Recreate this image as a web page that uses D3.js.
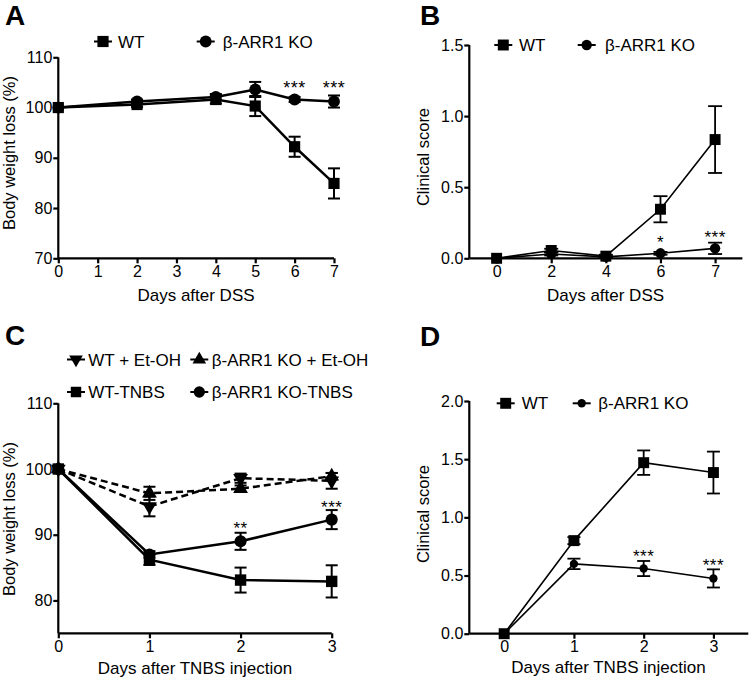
<!DOCTYPE html>
<html><head><meta charset="utf-8">
<script src="https://cdn.jsdelivr.net/npm/d3@7"></script>
<style>
body{margin:0;background:#fff;}
svg{display:block;font-family:"Liberation Sans",Arial,sans-serif;}
</style></head>
<body><svg id="c" width="750" height="683"></svg>
<script>
// ---------- Panel A data ----------
const daysA = [0, 2, 4, 5, 6, 7];
const wtA = [100, 100.6, 101.6, 100.3, 92.2, 84.9];
const wtAerr = [0, 0.5, 0.8, 2.0, 2.0, 3.0];
const koA = [100, 101.2, 102.1, 103.6, 101.6, 101.2];
const koAerr = [0, 0.4, 0.6, 1.5, 0.5, 1.2];
const sigA = [{d: 6, t: "***", at: 104.85}, {d: 7, t: "***", at: 104.85}];
const ticksAx = [0, 1, 2, 3, 4, 5, 6, 7];
const ticksAy = [70, 80, 90, 100, 110];

// ---------- Panel B data ----------
const daysB = ["0", "2", "4", "6", "7"];
const wtB = [0, 0.055, 0.015, 0.345, 0.835];
const wtBerr = [0, 0.012, 0.01, 0.092, 0.235];
const koB = [0, 0.03, 0.01, 0.035, 0.07];
const koBerr = [0, 0.01, 0.005, 0.01, 0.04];
const sigB = [{d: "6", t: "*", at: 0.143}, {d: "7", t: "***", at: 0.178}];
const ticksBy = [0, 0.5, 1.0, 1.5];

// ---------- Panel C data ----------
const daysC = [0, 1, 2, 3];
const wtEt = [100, 94.3, 98.6, 98.2];
const wtEtErr = [0, 1.5, 0.7, 1.2];
const koEt = [100, 96.3, 97.0, 98.9];
const koEtErr = [0, 1.0, 0.5, 0.5];
const wtTn = [100, 86.2, 83.1, 82.9];
const wtTnErr = [0, 0.8, 1.9, 2.45];
const koTn = [100, 87.0, 89.0, 92.3];
const koTnErr = [0, 0.5, 1.3, 1.45];
const sigC = [{d: 2, t: "**", at: 91.63}, {d: 3, t: "***", at: 94.78}];
const ticksCy = [80, 90, 100, 110];

// ---------- Panel D data ----------
const daysD = [0, 1, 2, 3];
const wtD = [0, 0.8, 1.47, 1.385];
const wtDerr = [0, 0.03, 0.105, 0.18];
const koD = [0, 0.6, 0.56, 0.475];
const koDerr = [0, 0.045, 0.065, 0.078];
const sigD = [{d: 2, t: "***", at: 0.704}, {d: 3, t: "***", at: 0.625}];
const ticksDy = [0, 0.5, 1.0, 1.5, 2.0];

const svg = d3.select("#c");

function marker(g, type, x, y, size) {
  let sym, rot = 0;
  if (type === "square") sym = d3.symbolSquare;
  else if (type === "circle") sym = d3.symbolCircle;
  else if (type === "up") sym = d3.symbolTriangle;
  else { sym = d3.symbolTriangle; rot = 180; }
  g.append("path")
    .attr("d", d3.symbol().type(sym).size(size)())
    .attr("transform", `translate(${x},${y}) rotate(${rot})`)
    .attr("fill", "#000");
}

function drawAxes(g, x, y, xTicks, yTicks, fmtX, fmtY, xRange) {
  const ax = g.append("g").attr("transform", `translate(0,${y.range()[0]})`)
    .call(d3.axisBottom(x).tickValues(xTicks).tickFormat(fmtX).tickSize(5).tickSizeOuter(0).tickPadding(2));
  ax.select(".domain").attr("d", `M${xRange[0]},0H${xRange[1]}`);
  const ay = g.append("g").attr("transform", `translate(${xRange[0]},0)`)
    .call(d3.axisLeft(y).tickValues(yTicks).tickFormat(fmtY).tickSize(5).tickSizeOuter(0).tickPadding(1));
  ay.select(".domain").attr("d", `M0,${y.range()[1]}V${y.range()[0]}`);
  [ax, ay].forEach(a => {
    a.selectAll(".domain,.tick line").attr("stroke", "#000").attr("stroke-width", 2.2);
    a.selectAll("text").attr("font-size", 16).attr("fill", "#000")
      .attr("font-family", '"Liberation Sans",Arial,sans-serif');
  });
}

function series(g, x, y, xs, vals, errs, opt) {
  const line = d3.line().x((d, i) => x(xs[i])).y(d => y(d));
  g.append("path").datum(vals).attr("d", line)
    .attr("fill", "none").attr("stroke", "#000").attr("stroke-width", opt.lw)
    .attr("stroke-dasharray", opt.dash || null);
  vals.forEach((v, i) => {
    const e = errs[i];
    const cx = x(xs[i]);
    if (e > 0) {
      const eg = g.append("g").attr("stroke", "#000").attr("stroke-width", opt.ew);
      eg.append("line").attr("x1", cx).attr("x2", cx).attr("y1", y(v - e)).attr("y2", y(v + e));
      [v - e, v + e].forEach(b => eg.append("line")
        .attr("x1", cx - opt.cap / 2).attr("x2", cx + opt.cap / 2).attr("y1", y(b)).attr("y2", y(b)));
    }
    marker(g, opt.shape, cx, y(v), opt.size);
  });
}

function legendItem(g, shape, mx, my, tx, label, size, half) {
  g.append("line").attr("x1", mx - half).attr("x2", mx + half).attr("y1", my).attr("y2", my)
    .attr("stroke", "#000").attr("stroke-width", 2);
  marker(g, shape, mx, my, size);
  g.append("text").attr("x", tx).attr("y", my + 6).attr("font-size", 17).text(label);
}

function stars(g, x, y, list, fs) {
  list.forEach(s => g.append("text").attr("x", x(s.d)).attr("y", y(s.at) + 0.58 * fs)
    .attr("text-anchor", "middle").attr("font-size", fs).attr("letter-spacing", 0.5).text(s.t));
}

function panelLetter(t, px, py) {
  svg.append("text").attr("x", px).attr("y", py).attr("font-size", 28).attr("font-weight", "bold").text(t);
}
function yLabel(t, px, py) {
  svg.append("text").attr("transform", `translate(${px},${py}) rotate(-90)`)
    .attr("text-anchor", "middle").attr("font-size", 16.5).text(t);
}
function xLabel(t, px, py) {
  svg.append("text").attr("x", px).attr("y", py).attr("text-anchor", "middle").attr("font-size", 17).text(t);
}

// ===== Panel A =====
{
  const g = svg.append("g");
  const x = d3.scaleLinear().domain([0, 7]).range([58.3, 334]);
  const y = d3.scaleLinear().domain([70, 110]).range([258.3, 57.3]);
  drawAxes(g, x, y, ticksAx, ticksAy, d3.format("d"), d3.format("d"), [58.3, 334]);
  series(g, x, y, daysA, wtA, wtAerr, {lw: 2.5, ew: 2, cap: 12, shape: "square", size: 125});
  series(g, x, y, daysA, koA, koAerr, {lw: 2.5, ew: 2, cap: 12, shape: "circle", size: 110});
  stars(g, x, y, sigA, 18);
  legendItem(g, "square", 103, 41.5, 118, "WT", 125, 9);
  legendItem(g, "circle", 205.7, 41.5, 222.7, "β-ARR1 KO", 110, 9);
  panelLetter("A", 5, 25);
  yLabel("Body weight loss (%)", 15, 153);
  xLabel("Days after DSS", 196, 301);
}

// ===== Panel B =====
{
  const g = svg.append("g");
  const xi = d3.scaleLinear().domain([-0.5, daysB.length - 0.5]).range([469.3, 742.4]);
  const band = d3.scalePoint().domain(daysB).range([xi(0), xi(daysB.length - 1)]);
  const y = d3.scaleLinear().domain([0, 1.5]).range([258.3, 45]);
  drawAxes(g, band, y, daysB, ticksBy, d => d, d3.format(".1f"), [469.3, 742.4]);
  series(g, band, y, daysB, wtB, wtBerr, {lw: 1.6, ew: 1.8, cap: 14, shape: "square", size: 120});
  series(g, band, y, daysB, koB, koBerr, {lw: 1.6, ew: 1.8, cap: 14, shape: "circle", size: 85});
  stars(g, band, y, sigB, 17);
  legendItem(g, "square", 503.3, 45, 519, "WT", 120, 9);
  legendItem(g, "circle", 586.7, 45, 605, "β-ARR1 KO", 85, 9);
  panelLetter("B", 420, 25);
  yLabel("Clinical score", 429, 157);
  xLabel("Days after DSS", 605.5, 301);
}

// ===== Panel C =====
{
  const g = svg.append("g");
  const x = d3.scaleLinear().domain([0, 3]).range([58.3, 331.7]);
  const y = d3.scaleLinear().domain([75, 110]).range([633.3, 403.3]);
  drawAxes(g, x, y, daysC, ticksCy, d3.format("d"), d3.format("d"), [58.3, 331.7]);
  series(g, x, y, daysC, wtEt, wtEtErr, {lw: 2.5, ew: 2, cap: 12, shape: "down", size: 95, dash: "7,4"});
  series(g, x, y, daysC, koEt, koEtErr, {lw: 2.5, ew: 2, cap: 12, shape: "up", size: 95, dash: "7,4"});
  series(g, x, y, daysC, wtTn, wtTnErr, {lw: 2.5, ew: 2, cap: 12, shape: "square", size: 130});
  series(g, x, y, daysC, koTn, koTnErr, {lw: 2.5, ew: 2, cap: 12, shape: "circle", size: 115});
  stars(g, x, y, sigC, 17);
  legendItem(g, "down", 76, 359.5, 88.3, "WT + Et-OH", 80, 9);
  legendItem(g, "up", 199.3, 359.5, 211.7, "β-ARR1 KO + Et-OH", 80, 9);
  legendItem(g, "square", 76, 392, 88.3, "WT-TNBS", 110, 9);
  legendItem(g, "circle", 199.3, 392, 211.7, "β-ARR1 KO-TNBS", 100, 9);
  panelLetter("C", 5, 345);
  yLabel("Body weight loss (%)", 15, 519);
  xLabel("Days after TNBS injection", 195, 674);
}

// ===== Panel D =====
{
  const g = svg.append("g");
  const x = d3.scaleLinear().domain([-0.5, 3.5]).range([469.3, 748.3]);
  const y = d3.scaleLinear().domain([0, 2]).range([633.7, 401]);
  drawAxes(g, x, y, daysD, ticksDy, d3.format("d"), d3.format(".1f"), [469.3, 748.3]);
  series(g, x, y, daysD, wtD, wtDerr, {lw: 1.6, ew: 1.8, cap: 13, shape: "square", size: 120});
  series(g, x, y, daysD, koD, koDerr, {lw: 1.6, ew: 1.8, cap: 13, shape: "circle", size: 55});
  stars(g, x, y, sigD, 17);
  legendItem(g, "square", 505.7, 403.3, 521.7, "WT", 120, 9);
  legendItem(g, "circle", 581.7, 403.3, 598.3, "β-ARR1 KO", 55, 9);
  panelLetter("D", 420, 346);
  yLabel("Clinical score", 429, 514);
  xLabel("Days after TNBS injection", 608.5, 673);
}
</script></body></html>
